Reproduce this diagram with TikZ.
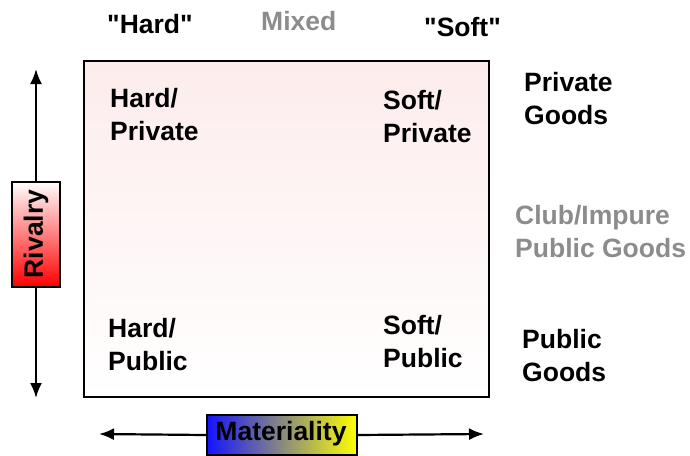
\documentclass[tikz,border=0pt]{standalone}
\usepackage{fontspec}
\setmainfont{Liberation Sans}
\usetikzlibrary{arrows.meta}
\definecolor{midgray}{RGB}{140,140,140}
\definecolor{boxpink}{RGB}{253,236,236}
\definecolor{myblue}{RGB}{20,20,255}
\definecolor{mymid}{RGB}{180,180,190}
\newcommand{\sq}{\XeTeXglyph\XeTeXglyphindex "quotedbl" \relax}
\tikzset{
  lbl/.style={font=\fontsize{26.5}{33}\selectfont\bfseries, inner sep=0pt, align=left, anchor=west},
  glbl/.style={lbl, text=midgray},
  axis/.style={line width=2.2pt, -{Latex[length=15pt,width=12pt]}},
  framebox/.style={draw=black, line width=2pt},
}
\begin{document}
\begin{tikzpicture}[x=1pt,y=-1pt]
\useasboundingbox (0,0) rectangle (690,455);
% main box
\path[framebox, top color=boxpink, bottom color=white] (84,61) rectangle (489,397);
\node[framebox, minimum width=48pt, minimum height=105pt, inner sep=0pt, top color=white, bottom color=red] (rv) at (36,234) {};
\node[font=\fontsize{26.5}{30}\selectfont\bfseries, rotate=90, inner sep=0pt] (rvt) at (rv.center) {Rivalry};
\node[framebox, minimum width=150pt, minimum height=40pt, inner sep=0pt, left color=myblue, middle color=mymid, right color=yellow] (mat) at (282,435) {};
\node[font=\fontsize{26.5}{30}\selectfont\bfseries, inner sep=0pt] (matt) at (281,434) {Materiality};
\coordinate (rvtop) at (36,69);
\coordinate (rvbot) at (36,398);
\coordinate (matl) at (99,434);
\coordinate (matr) at (484,434);
\draw[axis] (rv.north) -- (rvtop);
\draw[axis] (rv.south) -- (rvbot);
\draw[axis] (mat.west) -- (matl);
\draw[axis] (mat.east) -- (matr);
% top labels
\node[lbl] (hard) at (107,24) {\sq Hard\sq};
\node[glbl] (mixed) at (261,21) {Mixed};
\node[lbl] (soft) at (424,27) {\sq Soft\sq};
% quadrant labels
\node[lbl] (hp) at (110,114.5) {Hard/\\Private};
\node[lbl] (sp) at (383,116.5) {Soft/\\Private};
\node[lbl] (hpu) at (108,344.5) {Hard/\\Public};
\node[lbl] (spu) at (383,342) {Soft/\\Public};
% right labels
\node[lbl] (pg) at (524,98.5) {Private\\Goods};
\node[glbl] (cg) at (515,232) {Club/Impure\\Public Goods};
\node[lbl] (pug) at (522,355.5) {Public\\Goods};
\end{tikzpicture}
\end{document}
